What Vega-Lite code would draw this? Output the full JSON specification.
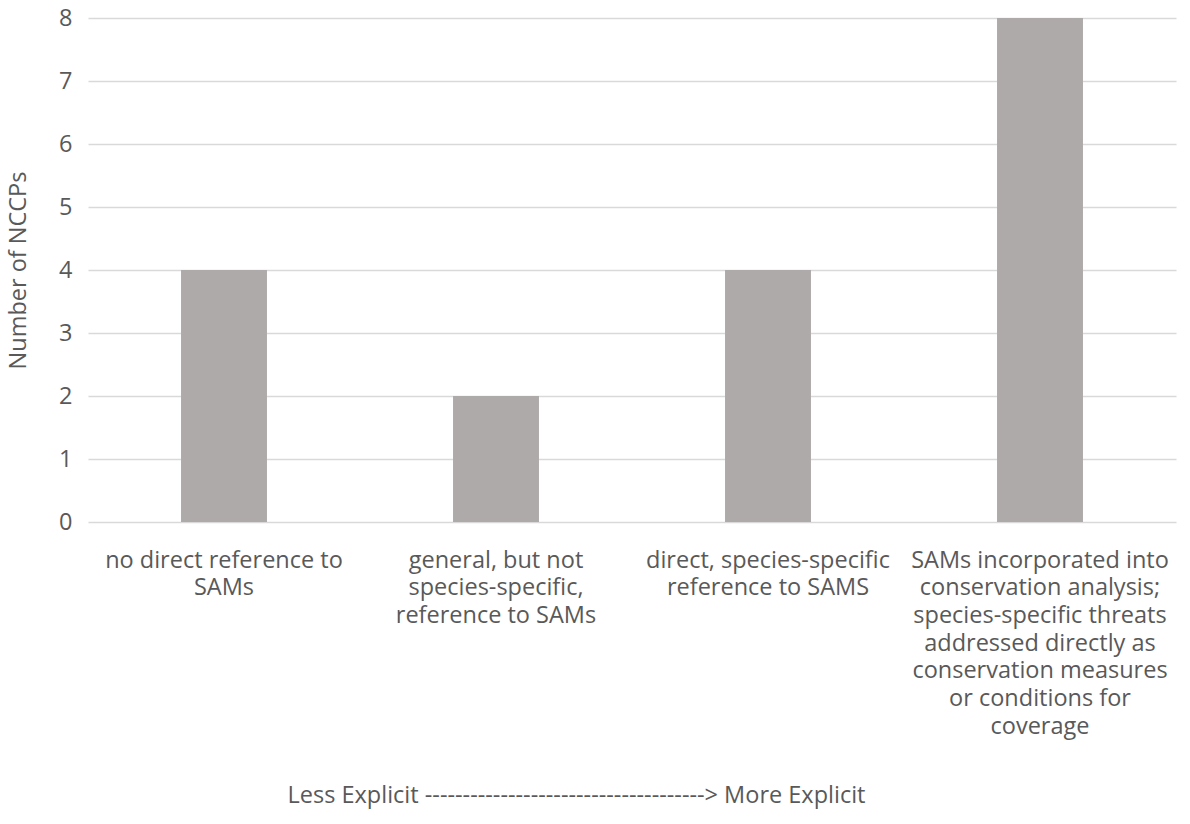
{
  "$schema": "https://vega.github.io/schema/vega-lite/v6.json",
  "width": 1088,
  "height": 504,
  "autosize": {"type": "none"},
  "padding": {"left": 88, "top": 18, "right": 14, "bottom": 302},
  "background": "white",
  "data": {
    "values": [
      {"level": "no direct reference to|SAMs", "count": 4},
      {"level": "general, but not|species-specific,|reference to SAMs", "count": 2},
      {"level": "direct, species-specific|reference to SAMS", "count": 4},
      {"level": "SAMs incorporated into|conservation analysis;|species-specific threats|addressed directly as|conservation measures|or conditions for|coverage", "count": 8}
    ]
  },
  "mark": {"type": "bar", "color": "#AEAAAA"},
  "encoding": {
    "x": {
      "field": "level",
      "type": "nominal",
      "sort": null,
      "scale": {"paddingInner": 0.684, "paddingOuter": 0.342},
      "axis": {
        "title": "Less Explicit -------------------------------------> More Explicit",
        "titleX": 488,
        "titleY": 273,
        "titleBaseline": "middle",
        "labelExpr": "split(datum.label, '|')",
        "labelAngle": 0,
        "labelPadding": 38,
        "labelLineHeight": 27.7,
        "labelBaseline": "middle",
        "labelLimit": 320,
        "labelOverlap": false,
        "domain": false,
        "ticks": false
      }
    },
    "y": {
      "field": "count",
      "type": "quantitative",
      "scale": {"domain": [0, 8], "nice": false},
      "axis": {
        "title": "Number of NCCPs",
        "values": [0, 1, 2, 3, 4, 5, 6, 7, 8],
        "labelOverlap": false,
        "domain": false,
        "ticks": false,
        "labelPadding": 16,
        "titleX": -70,
        "titleBaseline": "middle",
        "grid": true
      }
    }
  },
  "config": {
    "view": {"stroke": null},
    "font": "Open Sans",
    "axis": {
      "labelFont": "Open Sans",
      "titleFont": "Open Sans",
      "labelFontSize": 23.5,
      "titleFontSize": 23.5,
      "titleFontWeight": "normal",
      "labelColor": "#595959",
      "titleColor": "#595959",
      "gridColor": "#D9D9D9",
      "gridWidth": 1.5
    },
    "axisX": {"grid": false}
  }
}
